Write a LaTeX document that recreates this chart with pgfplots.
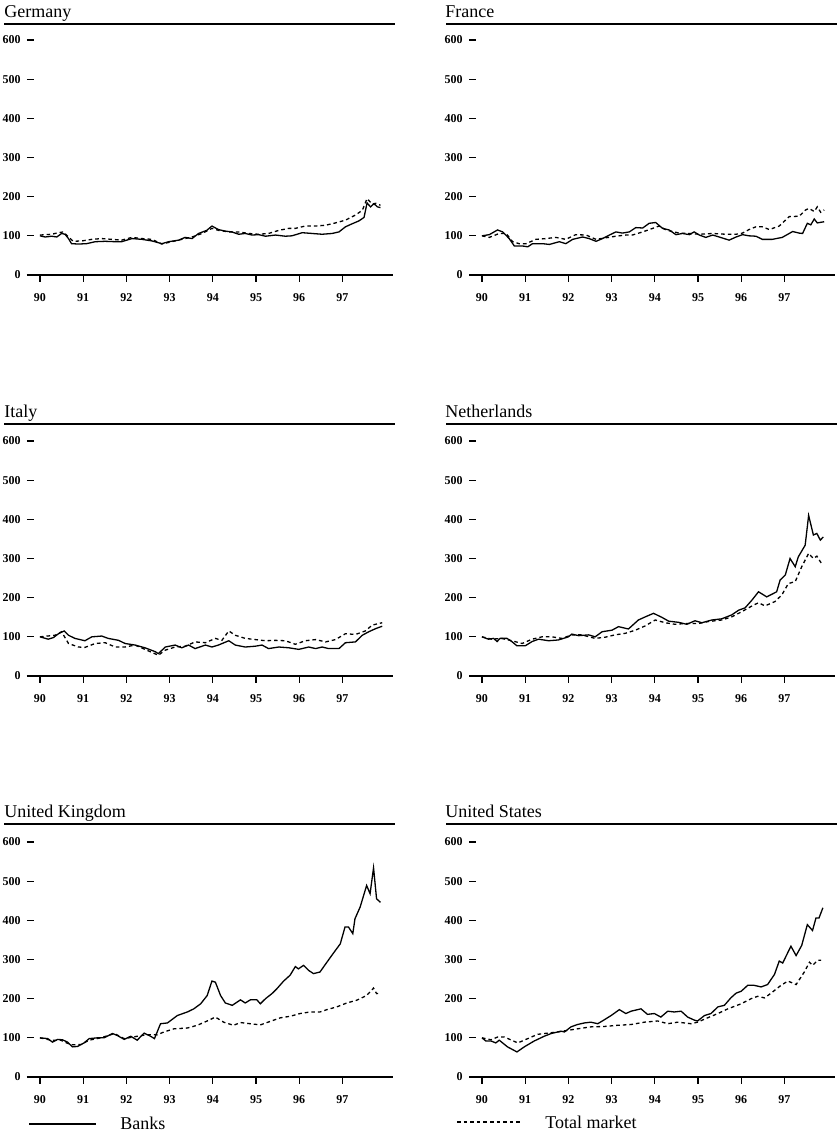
\documentclass[border=0pt]{standalone}
\usepackage{fontspec}
\setmainfont{Liberation Serif}
\usepackage{pgfplots}
\pgfplotsset{compat=1.18}
\pgfplotsset{
  panel/.style={
    scale only axis, width=183pt, height=117.5pt,
    xmin=89.7, xmax=98.17, ymin=0, ymax=600,
    xtick={90,91,...,97}, ytick={0,100,...,600},
    axis x line*=bottom, axis y line*=left,
    axis line style={-}, y axis line style={draw=none},
    x axis line style={line width=0.75pt},
    tick align=outside, major tick length=3.5pt,
    tick style={line width=0.6pt, black},
    ytick style={xshift=3.5pt},
    /pgf/number format/assume math mode=true,
    ticklabel style={font=\fontsize{6}{7}\selectfont\bfseries},
    yticklabel style={inner sep=0pt, xshift=0.5pt},
    xticklabel style={inner sep=0pt, yshift=-5.5pt},
    clip=false,
    every axis plot/.append style={line width=0.65pt, black},
  },
  banks/.style={solid},
  total/.style={dash pattern=on 1.8pt off 1.5pt},
}
\begin{document}
\begin{tikzpicture}[x=0.5pt,y=0.5pt]
\path (0,0) rectangle (837,1136);
% ---------- Germany
\begin{axis}[panel, at={(13.5pt,430.5pt)}, anchor=south west]
\addplot[banks] coordinates {(90.00,100)(90.12,97)(90.27,99)(90.39,97)(90.50,106)(90.58,104)(90.66,93)(90.73,80)(90.89,79)(91.08,80)(91.28,85)(91.51,86)(91.74,85)(91.89,85)(92.13,93)(92.36,91)(92.59,87)(92.82,80)(92.98,85)(93.21,89)(93.36,96)(93.52,93)(93.67,106)(93.86,114)(93.98,125)(94.13,116)(94.29,112)(94.44,110)(94.60,104)(94.75,106)(94.91,102)(95.06,103)(95.22,99)(95.45,102)(95.68,99)(95.83,100)(96.07,108)(96.30,106)(96.53,104)(96.76,106)(96.92,110)(97.07,123)(97.23,131)(97.38,138)(97.50,147)(97.57,184)(97.65,174)(97.73,182)(97.81,174)(97.88,172)};
\addplot[total] coordinates {(90.00,102)(90.27,104)(90.43,108)(90.54,110)(90.66,97)(90.77,86)(90.97,87)(91.20,91)(91.43,93)(91.66,91)(91.89,89)(92.13,96)(92.36,93)(92.59,91)(92.82,79)(93.05,85)(93.28,91)(93.52,97)(93.75,106)(93.98,119)(94.13,114)(94.37,110)(94.60,110)(94.83,106)(95.06,104)(95.29,106)(95.53,114)(95.76,119)(95.91,119)(96.14,125)(96.38,125)(96.61,127)(96.84,133)(97.07,140)(97.30,153)(97.46,165)(97.57,195)(97.69,181)(97.77,183)(97.88,178)};
\end{axis}
% ---------- France
\begin{axis}[panel, at={(234.5pt,430.5pt)}, anchor=south west]
\addplot[banks] coordinates {(90.00,100)(90.17,103)(90.36,115)(90.48,110)(90.63,93)(90.75,74)(90.94,74)(91.06,72)(91.17,80)(91.40,80)(91.56,78)(91.79,85)(91.94,80)(92.10,91)(92.33,97)(92.48,93)(92.64,86)(92.79,93)(92.95,102)(93.10,110)(93.25,107)(93.41,110)(93.56,121)(93.72,120)(93.87,132)(94.02,134)(94.18,119)(94.33,115)(94.49,103)(94.64,106)(94.80,103)(94.91,110)(95.03,102)(95.18,96)(95.34,102)(95.49,97)(95.72,89)(95.88,97)(96.03,103)(96.18,100)(96.34,99)(96.49,91)(96.72,91)(96.95,96)(97.19,111)(97.34,107)(97.42,106)(97.53,132)(97.61,128)(97.69,143)(97.76,133)(97.92,136)};
\addplot[total] coordinates {(90.00,100)(90.17,96)(90.40,106)(90.56,106)(90.71,85)(90.86,80)(91.02,80)(91.25,91)(91.48,93)(91.71,96)(91.94,91)(92.17,103)(92.41,102)(92.64,91)(92.87,95)(93.10,99)(93.33,102)(93.48,102)(93.72,110)(93.95,119)(94.10,125)(94.26,115)(94.56,107)(94.80,106)(95.03,104)(95.34,106)(95.64,104)(95.88,104)(96.03,107)(96.18,116)(96.34,123)(96.49,123)(96.65,116)(96.88,125)(97.11,149)(97.34,150)(97.49,166)(97.57,170)(97.69,162)(97.76,174)(97.84,160)(97.92,166)};
\end{axis}
% ---------- Italy
\begin{axis}[panel, at={(13.5pt,230pt)}, anchor=south west]
\addplot[banks] coordinates {(90.00,100)(90.19,94)(90.31,98)(90.43,108)(90.56,115)(90.66,104)(90.81,96)(91.04,90)(91.20,100)(91.43,102)(91.58,96)(91.82,91)(91.97,83)(92.20,79)(92.43,72)(92.67,62)(92.74,57)(92.90,74)(93.13,79)(93.28,72)(93.44,79)(93.59,70)(93.83,79)(93.98,74)(94.13,79)(94.37,90)(94.52,79)(94.75,74)(94.98,76)(95.14,79)(95.29,70)(95.53,74)(95.76,72)(95.99,68)(96.22,74)(96.38,70)(96.53,74)(96.68,70)(96.92,70)(97.07,85)(97.30,87)(97.46,104)(97.61,113)(97.77,121)(97.92,127)};
\addplot[total] coordinates {(90.00,100)(90.35,104)(90.50,113)(90.66,83)(90.89,74)(91.04,73)(91.28,83)(91.51,85)(91.74,74)(91.97,74)(92.20,79)(92.43,68)(92.74,53)(92.90,66)(93.13,74)(93.36,76)(93.59,87)(93.83,85)(94.06,96)(94.21,91)(94.37,115)(94.52,104)(94.75,96)(94.98,93)(95.22,90)(95.45,91)(95.68,90)(95.91,81)(96.14,90)(96.38,93)(96.61,87)(96.84,93)(97.07,108)(97.30,106)(97.53,115)(97.69,130)(97.92,136)};
\end{axis}
% ---------- Netherlands
\begin{axis}[panel, at={(234.5pt,230pt)}, anchor=south west]
\addplot[banks] coordinates {(90.00,100)(90.15,94)(90.27,96)(90.35,88)(90.42,96)(90.58,96)(90.69,88)(90.81,77)(91.00,77)(91.16,88)(91.31,94)(91.54,90)(91.77,92)(92.00,100)(92.08,107)(92.24,103)(92.47,105)(92.62,100)(92.78,113)(93.01,117)(93.16,126)(93.39,120)(93.62,143)(93.78,151)(93.97,160)(94.16,150)(94.32,140)(94.55,137)(94.74,132)(94.93,141)(95.09,136)(95.32,143)(95.55,146)(95.78,156)(95.94,168)(96.09,174)(96.25,194)(96.40,215)(96.59,202)(96.82,215)(96.90,245)(97.02,258)(97.13,300)(97.25,279)(97.32,304)(97.48,334)(97.56,410)(97.67,360)(97.75,364)(97.83,347)(97.90,355)};
\addplot[total] coordinates {(90.00,100)(90.23,94)(90.46,96)(90.69,90)(90.93,83)(91.16,94)(91.39,100)(91.62,100)(91.85,96)(92.08,105)(92.31,105)(92.62,96)(92.85,99)(93.08,105)(93.32,109)(93.55,117)(93.78,128)(94.01,143)(94.24,136)(94.47,132)(94.70,134)(95.01,134)(95.24,139)(95.55,143)(95.78,151)(96.01,164)(96.25,179)(96.40,187)(96.55,179)(96.78,190)(96.94,207)(97.09,236)(97.25,241)(97.40,279)(97.56,313)(97.67,300)(97.75,306)(97.86,287)};
\end{axis}
% ---------- United Kingdom
\begin{axis}[panel, at={(13.5pt,29.5pt)}, anchor=south west]
\addplot[banks] coordinates {(90.00,100)(90.18,98)(90.29,89)(90.41,96)(90.52,95)(90.64,89)(90.75,77)(90.87,78)(91.02,87)(91.14,98)(91.33,100)(91.48,100)(91.68,111)(91.79,106)(91.95,96)(92.10,104)(92.25,94)(92.41,112)(92.56,104)(92.65,98)(92.79,136)(92.95,138)(93.18,157)(93.41,166)(93.56,174)(93.72,187)(93.87,208)(93.98,245)(94.06,242)(94.18,208)(94.29,189)(94.45,183)(94.64,197)(94.75,189)(94.87,197)(95.02,197)(95.10,187)(95.22,200)(95.37,213)(95.48,225)(95.64,245)(95.79,260)(95.91,282)(95.98,276)(96.10,285)(96.22,272)(96.33,264)(96.48,268)(96.64,293)(96.79,316)(96.95,340)(97.06,383)(97.14,383)(97.24,366)(97.29,404)(97.41,434)(97.56,489)(97.64,468)(97.72,534)(97.79,455)(97.88,446)};
\addplot[total] coordinates {(90.00,100)(90.25,94)(90.48,94)(90.72,82)(90.95,83)(91.14,94)(91.41,100)(91.72,111)(91.95,98)(92.25,104)(92.48,108)(92.72,108)(92.87,115)(93.10,123)(93.41,125)(93.64,132)(93.87,143)(94.06,153)(94.25,140)(94.48,132)(94.64,139)(94.87,136)(95.10,133)(95.33,142)(95.56,151)(95.79,155)(96.02,162)(96.25,166)(96.48,166)(96.64,172)(96.87,179)(97.10,189)(97.33,196)(97.56,208)(97.72,227)(97.79,213)(97.88,214)};
\end{axis}
% ---------- United States
\begin{axis}[panel, at={(234.5pt,29.5pt)}, anchor=south west]
\addplot[banks] coordinates {(90.00,100)(90.09,92)(90.21,92)(90.32,87)(90.40,94)(90.59,77)(90.81,64)(90.98,77)(91.21,92)(91.44,104)(91.60,111)(91.83,117)(91.91,115)(92.06,128)(92.21,134)(92.37,138)(92.52,140)(92.68,136)(92.83,146)(92.99,157)(93.18,172)(93.33,162)(93.45,168)(93.68,174)(93.83,160)(93.99,162)(94.14,153)(94.30,168)(94.45,166)(94.61,168)(94.76,153)(94.92,145)(94.99,143)(95.15,157)(95.30,162)(95.46,179)(95.61,183)(95.76,202)(95.88,214)(96.00,219)(96.15,234)(96.30,234)(96.46,230)(96.61,236)(96.77,262)(96.88,296)(96.96,291)(97.15,334)(97.27,310)(97.40,336)(97.53,389)(97.65,374)(97.73,406)(97.80,406)(97.89,432)};
\addplot[total] coordinates {(90.00,100)(90.21,95)(90.36,102)(90.52,102)(90.83,87)(91.06,98)(91.29,109)(91.52,112)(91.75,115)(91.98,119)(92.21,123)(92.52,128)(92.83,129)(93.14,132)(93.45,134)(93.76,140)(94.07,143)(94.30,136)(94.53,140)(94.84,136)(94.99,140)(95.22,151)(95.46,162)(95.69,174)(96.00,187)(96.23,200)(96.38,206)(96.54,202)(96.69,214)(96.92,234)(97.08,245)(97.27,236)(97.46,268)(97.58,293)(97.65,285)(97.77,298)(97.85,298)};
\end{axis}
% ---------- titles and rules
\tikzset{ptitle/.style={anchor=base west, inner sep=0pt, font=\fontsize{9}{10}\selectfont}}
\foreach \ry/\lt/\rt in {1112/Germany/France, 712/Italy/Netherlands, 312/United Kingdom/United States}{
  \draw[line width=0.75pt] (4,\ry) -- (395,\ry);
  \draw[line width=0.75pt] (446,\ry) -- (837,\ry);
  \node[ptitle] at (4,\ry+6) {\lt};
  \node[ptitle] at (445,\ry+6) {\rt};
}
% ---------- legend
\draw[line width=0.65pt] (29,12) -- (96,12);
\node[anchor=west, inner sep=0pt, font=\fontsize{9}{10}\selectfont] at (120,13) {Banks};
\draw[line width=0.65pt, dash pattern=on 1.8pt off 1.5pt] (457,14) -- (520,14);
\node[anchor=west, inner sep=0pt, font=\fontsize{9}{10}\selectfont] at (545,14) {Total market};
\end{tikzpicture}
\end{document}
